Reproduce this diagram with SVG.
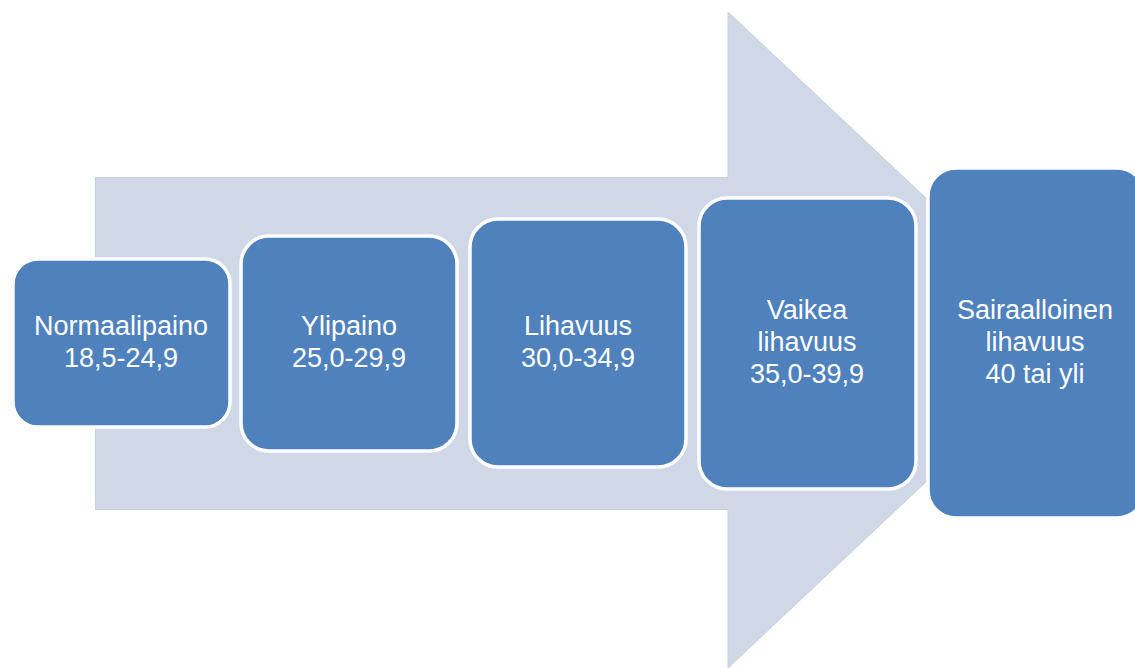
<svg xmlns="http://www.w3.org/2000/svg" width="1135" height="668" viewBox="0 0 1135 668">
<style>
.box{fill:#4F81BD;stroke:#FFFFFF;stroke-width:3.5}
.t{font-family:"Liberation Sans",Arial,sans-serif;font-size:27px;fill:#FFFFFF;text-anchor:middle}
</style>
<rect width="1135" height="668" fill="#FFFFFF"/>
<g id="arrow">
<path d="M95.5,177.5 H728 V12 L1077,340 L728,668 V509.5 H95.5 Z" fill="#D0D8E8" stroke="#C8CFDC" stroke-width="1"/>
</g>
<g id="connectors"></g>
<g id="node1">
<rect class="box" x="13" y="259" width="217" height="168" rx="25"/>
<text class="t" x="121" y="335">Normaalipaino</text>
<text class="t" x="121" y="367">18,5-24,9</text>
</g>
<g id="node2">
<rect class="box" x="241" y="236" width="216" height="215" rx="28"/>
<text class="t" x="349" y="335">Ylipaino</text>
<text class="t" x="349" y="367">25,0-29,9</text>
</g>
<g id="node3">
<rect class="box" x="470" y="219" width="216" height="248" rx="28"/>
<text class="t" x="578" y="335">Lihavuus</text>
<text class="t" x="578" y="367">30,0-34,9</text>
</g>
<g id="node4">
<rect class="box" x="699" y="198" width="217" height="291" rx="28"/>
<text class="t" x="807" y="319">Vaikea</text>
<text class="t" x="807" y="351">lihavuus</text>
<text class="t" x="807" y="383">35,0-39,9</text>
</g>
<g id="node5">
<rect class="box" x="928" y="168" width="217" height="350" rx="28"/>
<text class="t" x="1035" y="319">Sairaalloinen</text>
<text class="t" x="1035" y="351">lihavuus</text>
<text class="t" x="1035" y="383">40 tai yli</text>
</g>
</svg>
